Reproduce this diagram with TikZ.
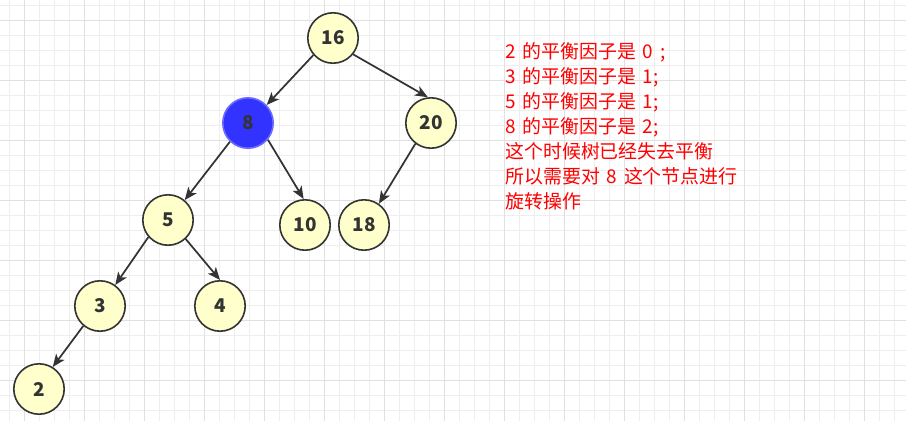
\documentclass[tikz,border=0pt]{standalone}
\usepackage{fontspec}
\newfontfamily\cjk{Noto Sans CJK SC}
\usetikzlibrary{arrows.meta}
\definecolor{nodefill}{HTML}{FFFFCC}
\definecolor{edgec}{HTML}{333333}
\definecolor{bluefill}{HTML}{3333FF}
\definecolor{blueline}{HTML}{6C6CFF}
\definecolor{gridminor}{HTML}{EEEEEE}
\definecolor{gridmajor}{HTML}{E0E0E0}
\newcommand\gp{\hspace{5.1pt}}
\begin{document}
\begin{tikzpicture}[x=0.75pt,y=-0.75pt,
  treenode/.style={circle, draw=edgec, line width=1.2pt, fill=nodefill,
    minimum size=37.8pt, inner sep=0pt, text=edgec,
    font=\cjk\bfseries\fontsize{14.2}{14}\selectfont},
  hotnode/.style={treenode, fill=bluefill, draw=blueline},
  link/.style={draw=edgec, line width=1.3pt,
    -{Stealth[length=9.5pt,width=7.8pt,inset=2.5pt]}},
  note/.style={anchor=base west, inner sep=0pt, text=red,
    font=\cjk\fontsize{14.2}{18}\selectfont}]
\useasboundingbox (0,0) rectangle (906,421);
\fill[white] (0,0) rectangle (906,421);
\foreach \x in {9,24,...,894} \draw[gridminor, line width=0.75pt] (\x,0) -- (\x,421);
\foreach \y in {5,20,...,410} \draw[gridminor, line width=0.75pt] (0,\y) -- (906,\y);
\foreach \x in {24,84,...,864} \draw[gridmajor, line width=0.75pt] (\x,0) -- (\x,421);
\foreach \y in {20,80,...,380} \draw[gridmajor, line width=0.75pt] (0,\y) -- (906,\y);

\node[treenode] (n16) at (333,38) {16};
\node[hotnode]  (n8)  at (248,123) {8};
\node[treenode] (n20) at (431,123) {20};
\node[treenode] (n5)  at (168,220) {5};
\node[treenode] (n10) at (305,225) {10};
\node[treenode] (n18) at (364,225) {18};
\node[treenode] (n3)  at (100,306) {3};
\node[treenode] (n4)  at (220,306) {4};
\node[treenode] (n2)  at (39,389) {2};

\draw[link] (n16.221) -- (n8.44);
\draw[link] (n16.-39) -- (n20.97);
\draw[link] (n8.226) -- (n5.50);
\draw[link] (n8.-40) -- (n10.93);
\draw[link] (n20.233) -- (n18.55);
\draw[link] (n5.221) -- (n3.54);
\draw[link] (n5.-47) -- (n4.90);
\draw[link] (n3.230) -- (n2.58);

\node[note] (t1) at (505,58.3) {2\gp 的平衡因子是\gp 0\gp ;};
\node[note] (t2) at (505,83.3) {3\gp 的平衡因子是\gp 1;};
\node[note] (t3) at (505,108.3) {5\gp 的平衡因子是\gp 1;};
\node[note] (t4) at (505,133.3) {8\gp 的平衡因子是\gp 2;};
\node[note] (t5) at (505,158.3) {这个时候树已经失去平衡};
\node[note] (t6) at (505,183.3) {所以需要对\gp 8\gp 这个节点进行};
\node[note] (t7) at (505,208.3) {旋转操作};
\end{tikzpicture}
\end{document}
